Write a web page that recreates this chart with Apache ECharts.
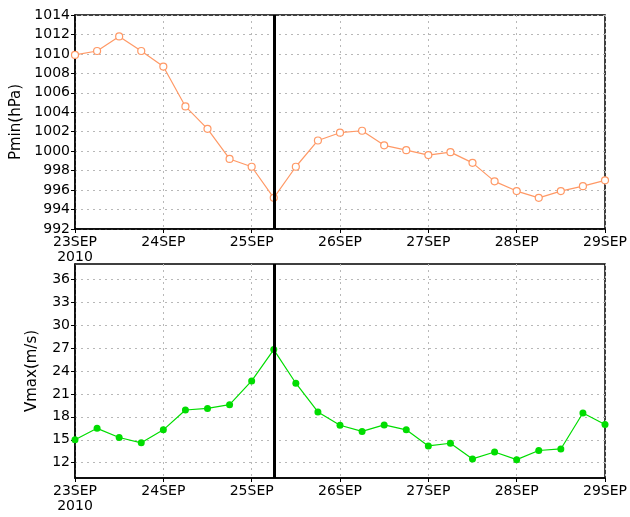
<!DOCTYPE html>
<html>
<head>
<meta charset="utf-8">
<script src="https://cdn.jsdelivr.net/npm/echarts@6/dist/echarts.min.js"></script>
<style>html,body{margin:0;padding:0;background:#fff}#c{width:630px;height:517px}</style>
</head>
<body>
<div id="c"></div>
<script>
// hours since 23SEP2010 00Z
const hours = [0,6,12,18,24,30,36,42,48,54,60,66,72,78,84,90,96,102,108,114,120,126,132,138,144];
const pmin = [1009.9,1010.3,1011.8,1010.3,1008.7,1004.6,1002.3,999.2,998.4,995.2,998.4,1001.1,1001.9,1002.1,1000.6,1000.1,999.6,999.9,998.8,996.9,995.9,995.2,995.9,996.4,997.0];
const vmax = [15.0,16.5,15.3,14.6,16.3,18.9,19.1,19.6,22.7,26.8,22.4,18.65,16.9,16.1,16.95,16.3,14.2,14.55,12.5,13.4,12.4,13.6,13.8,18.5,17.0];
const dayLabels = ['23SEP','24SEP','25SEP','26SEP','27SEP','28SEP','29SEP'];
const yearLabel = '2010';
const pminTicks = [992,994,996,998,1000,1002,1004,1006,1008,1010,1012,1014];
const vmaxTicks = [12,15,18,21,24,27,30,33,36];
const markHour = 54;

const font = 'DejaVu Sans';
const chart = echarts.init(document.getElementById('c'), null, {renderer:'canvas'});
const gridLine = {show:true, lineStyle:{color:'#b8b8b8', type:[2,4], width:1}};
function xAxis(gi){
  return {
    type:'value', gridIndex:gi, min:0, max:144, interval:24,
    axisLine:{show:true, onZero:false, lineStyle:{color:'#000', width:1.5}},
    axisTick:{show:true, inside:false, length:4, lineStyle:{color:'#000'}},
    axisLabel:{color:'#000', fontFamily:font, fontSize:14, margin:6, lineHeight:15,
      formatter:function(v){const i=Math.round(v/24); return dayLabels[i] + (i===0 ? '\n'+yearLabel : '');}},
    splitLine:gridLine
  };
}
chart.setOption({
  animation:false,
  grid:[
    {left:75, right:22, top:15, height:214, show:true, borderColor:'#000', borderWidth:1.5},
    {left:75, right:22, top:264, height:214, show:true, borderColor:'#000', borderWidth:1.5}
  ],
  xAxis:[xAxis(0), xAxis(1)],
  yAxis:[
    {type:'value', gridIndex:0, min:pminTicks[0], max:pminTicks[pminTicks.length-1], interval:2,
     name:'Pmin(hPa)', nameLocation:'middle', nameGap:50, nameRotate:90,
     nameTextStyle:{color:'#000', fontFamily:font, fontSize:15},
     axisLine:{show:true, lineStyle:{color:'#000', width:1.5}},
     axisTick:{show:true, length:4, lineStyle:{color:'#000'}},
     axisLabel:{color:'#000', fontFamily:font, fontSize:14, margin:5, formatter:function(v){return String(v);}},
     splitLine:gridLine},
    {type:'value', gridIndex:1, min:10, max:38,
     name:'Vmax(m/s)', nameLocation:'middle', nameGap:35, nameRotate:90,
     nameTextStyle:{color:'#000', fontFamily:font, fontSize:15},
     axisLine:{show:true, lineStyle:{color:'#000', width:1.5}},
     axisTick:{show:true, length:4, lineStyle:{color:'#000'}, customValues:vmaxTicks},
     axisLabel:{color:'#000', fontFamily:font, fontSize:14, margin:5, customValues:vmaxTicks},
     splitLine:gridLine}
  ],
  series:[
    {type:'line', xAxisIndex:0, yAxisIndex:0, data:hours.map((h,i)=>[h,pmin[i]]),
     symbol:'circle', symbolSize:7, showAllSymbol:true,
     lineStyle:{color:'#ff9966', width:1.2},
     itemStyle:{color:'#fff', borderColor:'#ff9966', borderWidth:1.2},
     markLine:{silent:true, symbol:['none','none'], label:{show:false},
       lineStyle:{color:'#000', width:3, type:'solid'}, data:[{xAxis:markHour}]}},
    {type:'line', xAxisIndex:1, yAxisIndex:1, data:hours.map((h,i)=>[h,vmax[i]]),
     symbol:'circle', symbolSize:7, showAllSymbol:true,
     lineStyle:{color:'#00dd00', width:1.2},
     itemStyle:{color:'#00dd00', borderWidth:0},
     markLine:{silent:true, symbol:['none','none'], label:{show:false},
       lineStyle:{color:'#000', width:3, type:'solid'}, data:[{xAxis:markHour}]}}
  ]
});
</script>
</body>
</html>
